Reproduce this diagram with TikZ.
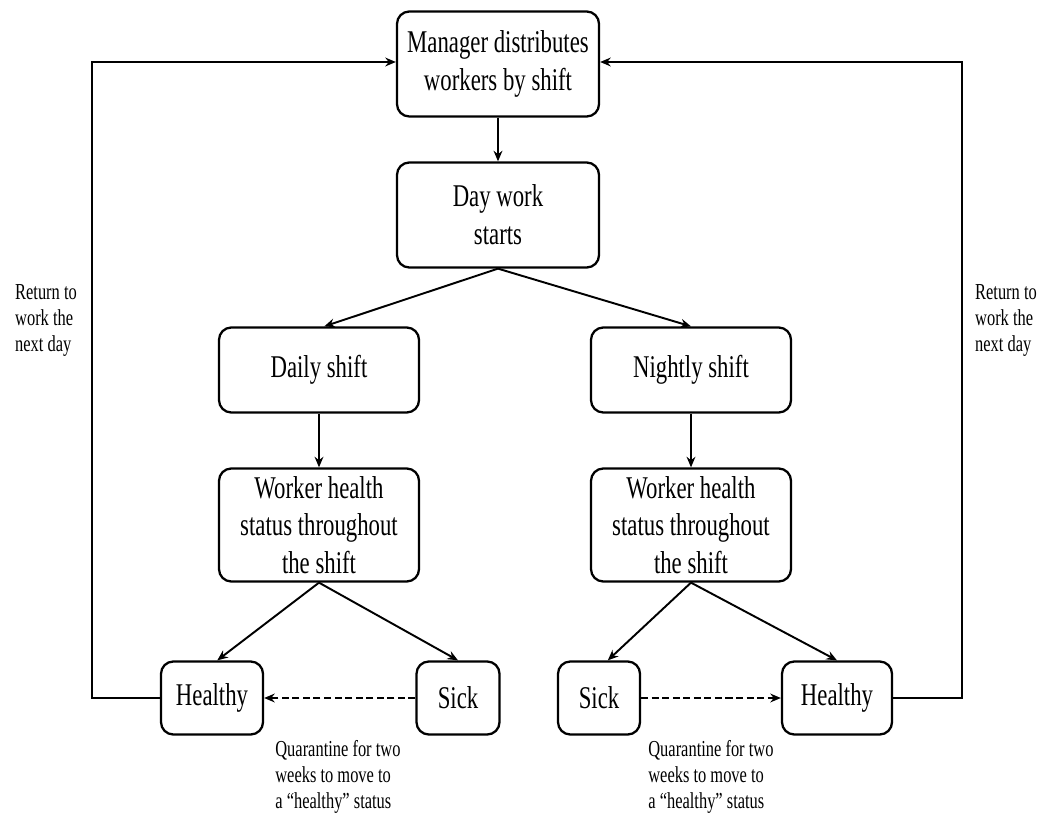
\documentclass[tikz,border=0pt]{standalone}
\usepackage{fontspec}
\setmainfont{Liberation Serif}[FakeStretch=0.72]
\usetikzlibrary{arrows.meta}
\tikzset{
  box/.style={draw,line width=1.3pt,rounded corners=7pt,align=center,font=\fontsize{18}{21.5}\selectfont,inner sep=2pt},
  note/.style={align=left,font=\fontsize{13}{14.8}\selectfont,inner sep=0pt},
  arr/.style={line width=1.1pt,-{Stealth[length=6pt,width=5pt]}}
}
\begin{document}
\begin{tikzpicture}
\useasboundingbox (0,0) rectangle (20.92,16.24);
\node [box,minimum width=4.04cm,minimum height=2.1cm] (M) at (9.96,14.96) {Manager distributes\\workers by shift};
\node [box,minimum width=4.04cm,minimum height=2.1cm] (D) at (9.96,11.94) {Day work\\starts};
\node [box,minimum width=4cm,minimum height=1.7cm] (S1) at (6.38,8.84) {Daily shift};
\node [box,minimum width=4cm,minimum height=1.7cm] (S2) at (13.82,8.84) {Nightly shift};
\node [box,minimum width=4cm,minimum height=2.26cm] (W1) at (6.38,5.74) {Worker health\\status throughout\\the shift};
\node [box,minimum width=4cm,minimum height=2.26cm] (W2) at (13.82,5.74) {Worker health\\status throughout\\the shift};
\node [box,minimum width=2.04cm,minimum height=1.46cm] (H1) at (4.24,2.28) {Healthy};
\node [box,minimum width=1.66cm,minimum height=1.46cm] (K1) at (9.16,2.28) {Sick};
\node [box,minimum width=1.64cm,minimum height=1.46cm] (K2) at (11.98,2.28) {Sick};
\node [box,minimum width=2.2cm,minimum height=1.46cm] (H2) at (16.74,2.28) {Healthy};
\coordinate (L0) at (1.84,2.28);
\coordinate (L1) at (1.84,15.0);
\coordinate (R0) at (19.24,2.28);
\coordinate (R1) at (19.24,15.0);
\node [note,anchor=center] (T1) at (0.92,9.84) {Return to\\work the\\next day};
\node [note,anchor=center] (T2) at (20.12,9.84) {Return to\\work the\\next day};
\node [note,anchor=north west] (Q1) at (5.5,1.44) {Quarantine for two\\weeks to move to\\a ``healthy'' status};
\node [note,anchor=north west] (Q2) at (12.96,1.44) {Quarantine for two\\weeks to move to\\a ``healthy'' status};
\draw [arr] (M) -- (D);
\draw [arr] (D.south) -- ([xshift=3pt]S1.north);
\draw [arr] (D.south) -- (S2.north);
\draw [arr] (S1) -- (W1);
\draw [arr] (S2) -- (W2);
\draw [arr] (W1.south) -- ([xshift=3pt]H1.north);
\draw [arr] (W1.south) -- (K1.north);
\draw [arr] (W2.south) -- ([xshift=5pt]K2.north);
\draw [arr] (W2.south) -- (H2.north);
\draw [arr,dash pattern=on 4pt off 2pt] (K1) -- (H1);
\draw [arr,dash pattern=on 4pt off 2pt] (K2) -- (H2);
\draw [arr] (H1.west) -- (L0) -- (L1) -- (M.west |- L1);
\draw [arr] (H2.east) -- (R0) -- (R1) -- (M.east |- R1);
\end{tikzpicture}
\end{document}
